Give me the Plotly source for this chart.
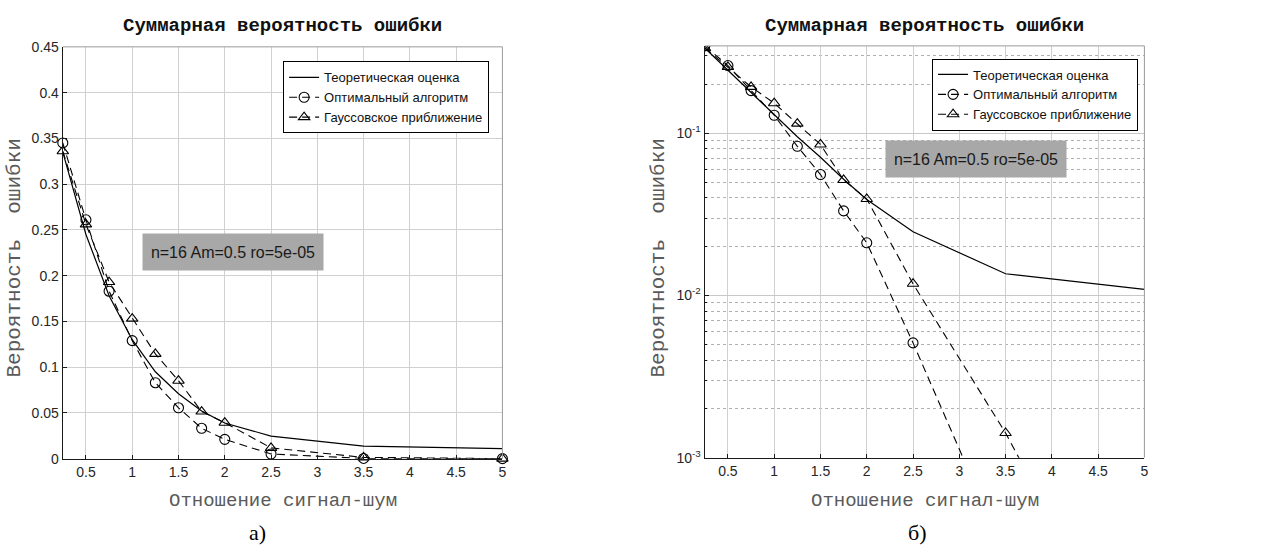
import plotly.graph_objects as go

snr = [0.25, 0.5, 0.75, 1.0, 1.25, 1.5, 1.75, 2.0, 2.5, 3.5, 5.0]
p_theory = [0.335, 0.245, 0.178, 0.130, 0.095, 0.071, 0.052, 0.039, 0.0247, 0.0136, 0.0109]
p_optimal = [0.345, 0.261, 0.183, 0.129, 0.083, 0.0556, 0.0332, 0.0211, 0.0051, 0.00025, 0.0000002]
p_gauss = [0.336, 0.256, 0.193, 0.153, 0.1145, 0.0852, 0.0515, 0.0393, 0.0118, 0.00142, 0.000036]

names = ["Теоретическая оценка", "Оптимальный алгоритм", "Гауссовское приближение"]
title_text = "Суммарная вероятность ошибки"
xlabel = "Отношение сигнал-шум"
ylabel = "Вероятность\u00a0\u00a0ошибки"
note = "n=16 Am=0.5 ro=5e-05"
panel_labels = ["а)", "б)"]
xticks = [0.5, 1, 1.5, 2, 2.5, 3, 3.5, 4, 4.5, 5]
xtick_text = ["0.5", "1", "1.5", "2", "2.5", "3", "3.5", "4", "4.5", "5"]
yticks_lin = [0, 0.05, 0.1, 0.15, 0.2, 0.25, 0.3, 0.35, 0.4, 0.45]
ytick_lin_text = ["0", "0.05", "0.1", "0.15", "0.2", "0.25", "0.3", "0.35", "0.4", "0.45"]
yticks_log = [0.001, 0.01, 0.1]
ytick_log_text = ["10<sup>-3</sup>", "10<sup>-2</sup>", "10<sup>-1</sup>"]

W, H = 1277, 557
dom_x1 = [63 / W, 504 / W]
dom_x2 = [707 / W, 1148 / W]
dom_y1 = [(H - 464) / H, (H - 40) / H]
dom_y2 = [(H - 463) / H, (H - 39) / H]

fig = go.Figure()

dash = "8px,5px"
for i, (xa, ya, leg, clip) in enumerate([("x", "y", "legend", False), ("x2", "y2", "legend2", True)]):
    fig.add_trace(go.Scatter(x=snr, y=p_theory, mode="lines", name=names[0],
                             line=dict(color="black", width=1.2), xaxis=xa, yaxis=ya,
                             legend=leg, cliponaxis=clip))
    fig.add_trace(go.Scatter(x=snr, y=p_optimal, mode="lines+markers", name=names[1],
                             line=dict(color="black", width=1.1, dash=dash),
                             marker=dict(symbol="circle-open", size=10, color="black", line=dict(width=1.1)),
                             xaxis=xa, yaxis=ya, legend=leg, cliponaxis=clip))
    fig.add_trace(go.Scatter(x=snr, y=p_gauss, mode="lines+markers", name=names[2],
                             line=dict(color="black", width=1.1, dash=dash),
                             marker=dict(symbol="triangle-up-open", size=10, color="black", line=dict(width=1.1)),
                             xaxis=xa, yaxis=ya, legend=leg, cliponaxis=clip))

tickfont = dict(family="Liberation Sans, Arial", size=14, color="#262626")
common_x = dict(range=[0.25, 5], tickvals=xticks, ticktext=xtick_text, showgrid=True,
                gridcolor="#d0d0d0", gridwidth=1, zeroline=False, showline=True,
                linecolor="#1a1a1a", linewidth=1.3, ticks="inside", ticklen=4,
                tickcolor="#1a1a1a", tickfont=tickfont)

minor_vals = [m * 10 ** e for e in (-3, -2, -1) for m in range(2, 10) if m * 10 ** e < 0.35]

fig.update_layout(
    width=W, height=H, margin=dict(l=0, r=0, t=0, b=0),
    paper_bgcolor="white", plot_bgcolor="white",
    showlegend=True,
    xaxis=dict(domain=dom_x1, anchor="y", **common_x),
    yaxis=dict(domain=dom_y1, anchor="x", range=[0, 0.45], tickvals=yticks_lin, ticktext=ytick_lin_text,
               showgrid=True, gridcolor="#d0d0d0", zeroline=False, showline=True, linecolor="#1a1a1a",
               linewidth=1.3, ticks="inside", ticklen=4, tickcolor="#1a1a1a", tickfont=tickfont),
    xaxis2=dict(domain=dom_x2, anchor="y2", **common_x),
    yaxis2=dict(domain=dom_y2, anchor="x2", type="log", range=[-3, -0.462],
                tickvals=yticks_log, ticktext=ytick_log_text,
                showgrid=True, gridcolor="#c8c8c8", zeroline=False, showline=True, linecolor="#1a1a1a",
                linewidth=1.3, ticks="inside", ticklen=4, tickcolor="#1a1a1a", tickfont=tickfont,
                minor=dict(tickvals=minor_vals, showgrid=True, gridcolor="#b0b0b0", griddash="dot",
                           ticks="inside", ticklen=2, tickcolor="#1a1a1a")),
    legend=dict(x=284 / W, y=(H - 55) / H, xanchor="left", yanchor="top",
                bgcolor="white", bordercolor="black", borderwidth=1,
                font=dict(family="Liberation Sans, Arial", size=13, color="#111"),
                tracegroupgap=0, itemwidth=30),
    legend2=dict(x=935 / W, y=(H - 52) / H, xanchor="left", yanchor="top",
                 bgcolor="white", bordercolor="black", borderwidth=1,
                 font=dict(family="Liberation Sans, Arial", size=13, color="#111"),
                 tracegroupgap=0, itemwidth=30),
)

# box (top / right edges)
for dx, dy in [(dom_x1, dom_y1), (dom_x2, dom_y2)]:
    fig.add_shape(type="line", xref="paper", yref="paper", x0=dx[0], x1=dx[1], y0=dy[1], y1=dy[1],
                  line=dict(color="#9a9a9a", width=1))
    fig.add_shape(type="line", xref="paper", yref="paper", x0=dx[1], x1=dx[1], y0=dy[0], y1=dy[1],
                  line=dict(color="#9a9a9a", width=1))

mono = "Liberation Mono, Courier New, monospace"
ann = []
for dx, cy_note, cx_note, ylab_x in [
    (dom_x1, 251, 234, 15),
    (dom_x2, 155, 979, 661),
]:
    cx = (dx[0] + dx[1]) / 2
    ann.append(dict(x=cx, y=(H - 19) / H, xref="paper", yref="paper", text="<b>" + title_text + "</b>",
                    showarrow=False, font=dict(family=mono, size=19, color="#111"),
                    xanchor="center", yanchor="middle"))
    ann.append(dict(x=cx, y=(H - 508) / H, xref="paper", yref="paper", text=xlabel, showarrow=False,
                    font=dict(family=mono, size=19, color="#5a5a5a"), xanchor="center", yanchor="middle"))
    ann.append(dict(x=ylab_x / W, y=(H - 257) / H, xref="paper", yref="paper", text=ylabel, showarrow=False,
                    textangle=-90, font=dict(family=mono, size=21, color="#5a5a5a"),
                    xanchor="center", yanchor="middle"))
    ann.append(dict(x=cx_note / W, y=(H - cy_note) / H, xref="paper", yref="paper", text=note,
                    showarrow=False, bgcolor="#a8a8a8", width=178, height=34, borderpad=1,
                    font=dict(family="Liberation Sans, Arial", size=16, color="#1a1a1a"),
                    xanchor="center", yanchor="middle"))
for lbl, px in zip(panel_labels, [258, 920]):
    ann.append(dict(x=px / W, y=(H - 540) / H, xref="paper", yref="paper", text=lbl, showarrow=False,
                    font=dict(family="Liberation Serif, Times New Roman, serif", size=22, color="black"),
                    xanchor="center", yanchor="middle"))
fig.update_layout(annotations=ann)

fig.write_html("out.html")
